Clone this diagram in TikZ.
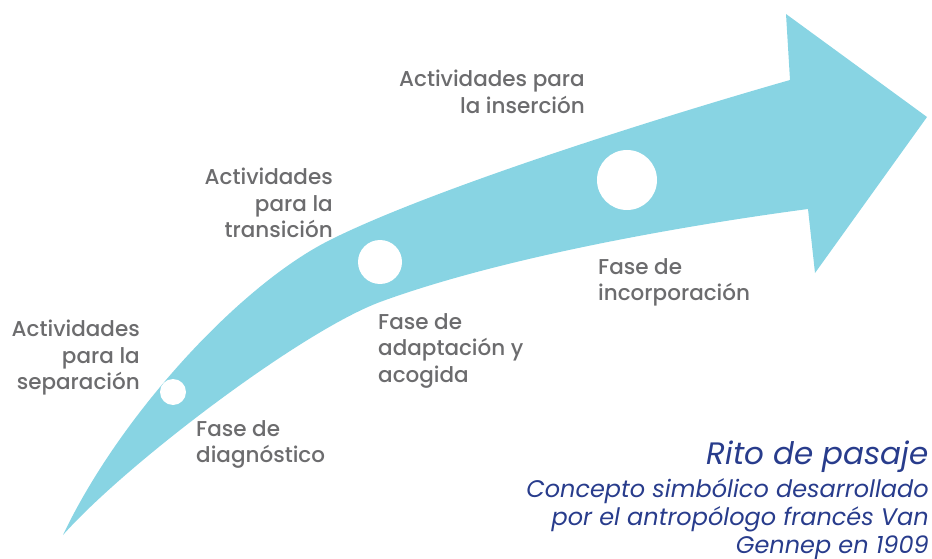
\documentclass[tikz,border=0pt]{standalone}
\usepackage{fontspec}
\setmainfont{Poppins}[UprightFont=* Medium, ItalicFont=* Italic]
\usetikzlibrary{positioning}
\definecolor{arrowblue}{RGB}{136,212,227}
\definecolor{labelgray}{RGB}{108,108,110}
\definecolor{titleblue}{RGB}{40,60,140}
\tikzset{
  actlabel/.style={anchor=north east, align=right, inner sep=0pt, text=labelgray, font=\fontsize{21.5}{26.5}\selectfont},
  faselabel/.style={anchor=north west, align=left, inner sep=0pt, text=labelgray, font=\fontsize{21.5}{26.5}\selectfont},
  stage/.style={circle, fill=white, inner sep=0pt}
}

\begin{document}
\begin{tikzpicture}[x=1pt, y=-1pt]
\useasboundingbox (0,0) rectangle (932,559);

% arrow
\fill[arrowblue] (63,535) .. controls (120,415) and (240,285) .. (330,240)
  .. controls (430,190) and (650,120) .. (790,80)
  -- (786,14) -- (927,117) -- (815,273) -- (808,209)
  .. controls (680,226) and (500,258) .. (380,302)
  .. controls (300,332) and (125,465) .. (63,535) -- cycle;

% stages
\node[stage, minimum size=26pt] (s1) at (173,392) {};
\node[stage, minimum size=44pt] (s2) at (380,262) {};
\node[stage, minimum size=60pt] (s3) at (627,180) {};

% labels
\node[actlabel] (a1) at (140,320) {Actividades\\para la\\separación};
\node[actlabel] (a2) at (333,168) {Actividades\\para la\\transición};
\node[actlabel] (a3) at (585,70) {Actividades para\\la inserción};

\node[faselabel] (f1) at (196,420) {Fase de\\diagnóstico};
\node[faselabel] (f2) at (378,313) {Fase de\\adaptación y\\acogida};
\node[faselabel] (f3) at (598,258) {Fase de\\incorporación};

% caption
\node[anchor=north east, inner sep=0pt, text=titleblue, font=\fontsize{31}{34}\itshape] (title) at (929,441) {Rito de pasaje};
\node[below=5pt of title.south east, anchor=north east, align=right, inner sep=0pt, text=titleblue, font=\fontsize{24}{28}\itshape] (desc) {Concepto simbólico desarrollado\\por el antropólogo francés Van\\Gennep en 1909};

\end{tikzpicture}
\end{document}
